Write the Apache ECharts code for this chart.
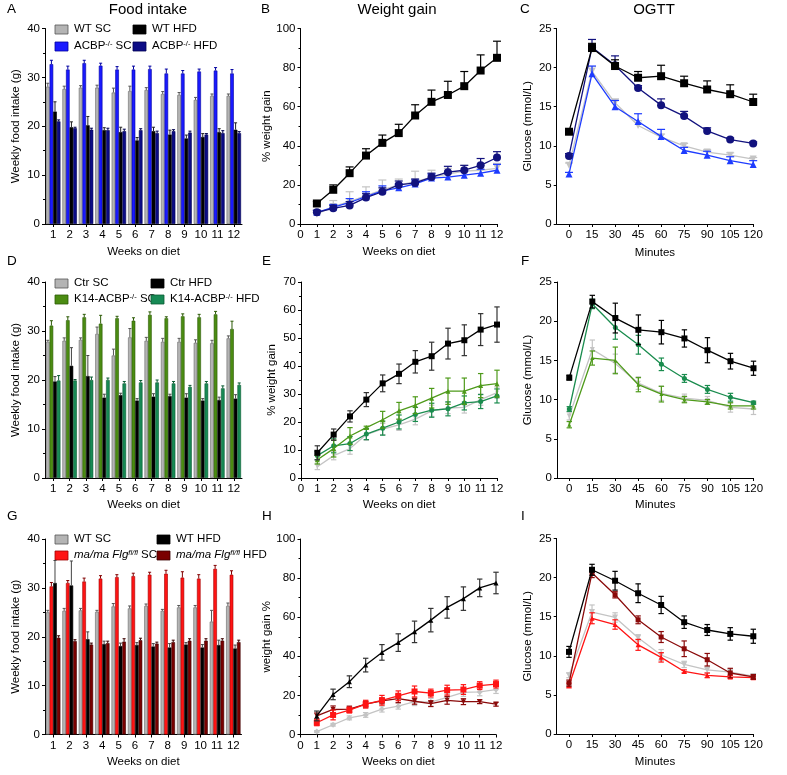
<!DOCTYPE html>
<html>
<head>
<meta charset="utf-8">
<script src="https://cdn.jsdelivr.net/npm/echarts@6/dist/echarts.min.js"></script>
<style>
html, body { margin: 0; padding: 0; background: #fff; }
#chart { width: 787px; height: 775px; }
</style>
</head>
<body>
<div id="chart"></div>
<script>
const weeks = ['1', '2', '3', '4', '5', '6', '7', '8', '9', '10', '11', '12']
const weekNums = [1, 2, 3, 4, 5, 6, 7, 8, 9, 10, 11, 12]
const minutes = [0, 15, 30, 45, 60, 75, 90, 105, 120]

// A - food intake, ACBP-/-
const aWtSc = [28.1, 27.6, 27.9, 27.9, 26.9, 27.2, 27.4, 26.6, 26.4, 25.4, 26.2, 26.2]
const aWtScErr = [0.7, 0.6, 0.4, 0.5, 0.9, 1.0, 0.5, 0.5, 0.5, 0.5, 0.4, 0.4]
const aKoSc = [32.7, 31.6, 32.9, 32.4, 31.6, 31.6, 31.7, 30.8, 30.8, 31.2, 31.4, 30.8]
const aKoScErr = [0.8, 0.7, 0.6, 0.5, 0.6, 0.7, 0.6, 0.9, 0.6, 0.5, 0.6, 0.8]
const aWtHfd = [23.0, 19.8, 20.2, 19.2, 18.8, 17.1, 19.0, 18.3, 17.5, 17.8, 18.8, 19.3]
const aWtHfdErr = [2.0, 1.1, 1.8, 0.5, 1.0, 0.6, 0.8, 0.9, 0.7, 0.7, 0.7, 1.4]
const aKoHfd = [21.0, 19.6, 19.3, 19.2, 19.0, 19.2, 18.6, 19.0, 18.7, 18.3, 18.6, 18.6]
const aKoHfdErr = [0.3, 0.2, 0.3, 0.4, 0.4, 0.3, 0.4, 0.3, 0.3, 0.2, 0.5, 0.3]

// B - weight gain, ACBP-/-
const bWtHfd = [10.5, 17.5, 26, 35, 41.5, 46.5, 55.5, 62.5, 66, 70.5, 78.5, 85]
const bWtHfdErr = [1, 2.5, 3.2, 3.5, 4, 4.5, 5.5, 6, 7, 7.5, 8, 8.5]
const bKoHfd = [6, 8, 9.5, 13.5, 16.5, 20, 21, 24, 26.5, 27.5, 30, 34]
const bKoHfdErr = [1, 1.5, 2, 2, 2, 2, 2, 2, 3, 2.5, 3.5, 3]
const bKoSc = [6, 8.5, 11, 14, 17, 18.5, 20.5, 23.5, 24, 25, 26, 27.5]
const bKoScErr = [1, 1.5, 2, 2.5, 2.5, 2, 2, 2, 2, 2, 2, 3]
const bWtSc = [5, 9, 11.5, 14.5, 17.5, 20, 21.5, 24, 25.5, 27, 27.5, 28.5]
const bWtScErr = [1.5, 3, 5, 4.5, 5, 3, 5.5, 3.5, 3, 3, 2.5, 2.5]

// C - OGTT, ACBP-/-
const cWtHfd = [11.8, 22.5, 20.2, 18.7, 18.9, 18.0, 17.2, 16.6, 15.6]
const cWtHfdErr = [0.3, 0.6, 0.8, 0.8, 1.4, 0.9, 1.1, 1.2, 1.0]
const cKoHfd = [8.7, 22.6, 20.3, 17.4, 15.2, 13.8, 11.9, 10.8, 10.3]
const cKoHfdErr = [0.3, 1.0, 1.2, 0.3, 0.8, 0.6, 0.4, 0.2, 0.2]
const cKoSc = [6.4, 19.2, 15.0, 13.1, 11.2, 9.4, 8.8, 8.1, 7.6]
const cKoScErr = [0.2, 1.0, 0.8, 1.0, 0.9, 0.4, 0.5, 0.5, 0.5]
const cWtSc = [7.5, 19.5, 15.5, 12.6, 11.1, 10.0, 9.2, 8.8, 8.3]
const cWtScErr = [0.3, 0.6, 0.5, 0.6, 0.4, 0.3, 0.3, 0.3, 0.2]

// D - food intake, K14-ACBP-/-
const dCtrSc = [27.8, 28.0, 28.2, 29.4, 25.0, 28.7, 28.0, 27.8, 27.8, 27.6, 27.5, 28.5]
const dCtrScErr = [0.3, 0.6, 0.4, 1.4, 1.3, 1.8, 0.7, 0.7, 0.7, 0.6, 0.6, 0.5]
const dKoSc = [31.1, 32.2, 32.8, 31.5, 32.6, 32.1, 33.3, 32.6, 33.0, 32.8, 33.4, 30.4]
const dKoScErr = [1.0, 0.7, 0.6, 1.7, 0.4, 0.6, 0.6, 0.3, 0.5, 0.6, 0.6, 1.6]
const dCtrHfd = [19.7, 22.9, 20.8, 16.4, 16.9, 15.8, 16.6, 16.7, 16.4, 15.8, 15.9, 16.2]
const dCtrHfdErr = [1.0, 3.7, 4.2, 0.7, 0.4, 0.4, 0.6, 0.4, 0.8, 0.4, 0.6, 0.8]
const dKoHfd = [19.9, 19.9, 20.0, 20.0, 19.3, 19.5, 19.5, 19.3, 18.6, 19.3, 18.3, 19.0]
const dKoHfdErr = [1.0, 0.2, 0.6, 0.4, 0.4, 0.4, 0.5, 0.4, 0.3, 0.4, 0.5, 0.4]

// E - weight gain, K14-ACBP-/-
const eCtrHfd = [9, 15.5, 22, 28, 33.8, 37.2, 41.5, 43.5, 48, 49.2, 53, 54.8]
const eCtrHfdErr = [2.5, 2, 2, 2.5, 3, 3.5, 4, 5, 5.5, 5.5, 5.7, 6.3]
const eKoSc = [6.5, 10.5, 15, 18, 20.8, 24, 26, 28.5, 31, 31, 33, 33.7]
const eKoScErr = [1.5, 3, 3, 0.5, 3, 3, 3, 3.5, 4.7, 4.7, 4.3, 4.8]
const eKoHfd = [8, 11.5, 12.3, 15.7, 17.8, 20, 22.7, 24.2, 24.7, 26.8, 27.3, 29.3]
const eKoHfdErr = [1.5, 2.5, 2.5, 2, 2.5, 2.5, 2.5, 2.5, 2.5, 2.5, 2.5, 2.5]
const eCtrSc = [4, 8, 10.5, 15.5, 17.5, 19, 21, 24, 25, 25.2, 28, 30.5]
const eCtrScErr = [1, 1.5, 2, 2, 2, 2, 2, 2, 2, 2, 2, 2]

// F - OGTT, K14-ACBP-/-
const fCtrHfd = [12.8, 22.5, 20.4, 18.9, 18.6, 17.8, 16.3, 14.9, 14.0]
const fCtrHfdErr = [0.3, 0.8, 1.9, 1.9, 1.5, 1.1, 1.6, 1.0, 0.9]
const fKoHfd = [8.8, 22.2, 19.2, 17.0, 14.5, 12.7, 11.3, 10.3, 9.6]
const fKoHfdErr = [0.3, 0.6, 1.5, 1.2, 0.8, 0.5, 0.5, 0.5, 0.2]
const fKoSc = [6.8, 15.3, 15.0, 11.9, 10.7, 10.0, 9.7, 9.2, 9.2]
const fKoScErr = [0.4, 0.9, 1.7, 0.9, 1.0, 0.4, 0.3, 0.4, 0.4]
const fCtrSc = [7.9, 16.4, 14.6, 12.1, 10.8, 10.2, 9.9, 9.0, 8.8]
const fCtrScErr = [0.5, 1.2, 1.2, 0.8, 0.9, 0.5, 0.5, 0.6, 0.7]

// G - food intake, ma/ma Flg fl/fl
const gWtSc = [25.0, 25.3, 25.4, 25.1, 26.2, 25.8, 26.3, 25.3, 26.0, 26.0, 23.1, 26.3]
const gWtScErr = [0.4, 0.5, 0.4, 0.3, 0.6, 0.5, 0.4, 0.3, 0.4, 0.4, 2.3, 0.6]
const gMaSc = [30.3, 31.0, 31.3, 31.9, 32.2, 32.4, 32.7, 32.9, 32.1, 31.9, 33.9, 32.7]
const gMaScErr = [0.8, 0.5, 0.7, 0.6, 0.5, 0.6, 0.5, 0.7, 1.2, 0.8, 0.7, 0.8]
const gWtHfd = [31.0, 30.5, 19.5, 18.5, 18.1, 18.3, 18.0, 17.8, 18.4, 17.8, 18.3, 17.6]
const gWtHfdErr = [4.6, 5.0, 1.5, 0.6, 0.6, 0.5, 0.6, 0.8, 0.4, 0.6, 1.0, 0.7]
const gMaHfd = [19.8, 19.1, 18.4, 18.7, 19.0, 19.3, 18.6, 18.9, 19.2, 19.2, 19.2, 18.9]
const gMaHfdErr = [0.4, 0.3, 0.3, 0.4, 0.6, 0.4, 0.3, 0.4, 0.4, 0.4, 0.4, 0.4]

// H - weight gain, ma/ma Flg fl/fl
const hWtHfd = [9.5, 20.5, 27, 35.5, 42, 47, 52.5, 58.5, 65, 69.5, 75, 77.5]
const hWtHfdErr = [2.5, 2.7, 3, 3.5, 4, 4.5, 5.5, 6, 5.5, 6, 4.5, 5.5]
const hMaSc = [6, 10, 12.5, 15.5, 17.5, 19.8, 22, 21.2, 22.7, 23, 25, 25.8]
const hMaScErr = [1.5, 2.5, 1.5, 2, 2.5, 2.5, 2.8, 2, 2.5, 2.5, 2, 2]
const hMaHfd = [9.5, 12.8, 13, 15.5, 17.2, 18.3, 17, 15.8, 17.5, 16.8, 16.8, 15.5]
const hMaHfdErr = [1.5, 1.8, 1.5, 1.5, 1.5, 2, 1.5, 1.5, 2, 1.5, 1, 1]
const hWtSc = [1.5, 5, 8.5, 10, 13, 14.5, 16.8, 16.5, 19, 21.5, 21.8, 23]
const hWtScErr = [0.5, 0.7, 1, 1.2, 1.5, 1.5, 2, 2, 2, 2, 2, 2]

// I - OGTT, ma/ma Flg fl/fl
const iWtHfd = [10.5, 21.0, 19.6, 18.0, 16.5, 14.3, 13.3, 12.8, 12.5]
const iWtHfdErr = [0.7, 0.7, 1.2, 1.2, 1.1, 0.8, 0.7, 0.8, 0.9]
const iMaHfd = [6.5, 20.6, 17.8, 14.6, 12.4, 10.9, 9.5, 7.8, 7.3]
const iMaHfdErr = [0.4, 0.6, 0.4, 0.5, 0.7, 1.0, 0.8, 0.6, 0.3]
const iWtSc = [7.5, 15.6, 14.9, 12.3, 10.1, 8.9, 8.2, 7.9, 7.4]
const iWtScErr = [0.3, 0.9, 0.6, 0.4, 0.7, 0.4, 0.4, 0.4, 0.3]
const iMaSc = [6.2, 14.8, 14.0, 11.4, 9.8, 8.0, 7.5, 7.3, 7.2]
const iMaScErr = [0.3, 0.7, 0.6, 0.7, 0.6, 0.2, 0.3, 0.2, 0.2]

const FONT = '"Liberation Sans", Arial, sans-serif'
const txt = { color: '#000', fontFamily: FONT, fontSize: 11.5 }

const grids = [
  { left: 45, top: 28.5, width: 197, height: 195.5 },
  { left: 300.5, top: 28.5, width: 196.5, height: 195.5 },
  { left: 556.7, top: 28.5, width: 196.5, height: 195.5 },
  { left: 45, top: 282, width: 197, height: 196 },
  { left: 301, top: 282, width: 196, height: 196 },
  { left: 557, top: 282, width: 196.5, height: 196 },
  { left: 45, top: 539, width: 196.5, height: 195.5 },
  { left: 300.5, top: 539, width: 195.5, height: 195.5 },
  { left: 556.7, top: 538.5, width: 196.6, height: 195.5 }
]
// gap between x axis line and its title, per row
const xNameGaps = [22, 22, 23, 21, 21, 21, 21.5, 21.5, 21.5]

const blackLine = { show: true, onZero: false, lineStyle: { color: '#000', width: 1 } }

function xCat(gi) {
  return {
    type: 'category', gridIndex: gi, data: weeks,
    name: 'Weeks on diet', nameLocation: 'middle', nameGap: xNameGaps[gi], nameTextStyle: txt,
    axisLine: blackLine,
    axisTick: { show: true, alignWithLabel: true, length: 3, lineStyle: { color: '#000' } },
    axisLabel: { ...txt, margin: 5, interval: 0 }
  }
}

function xWeeks(gi) {
  return {
    type: 'value', gridIndex: gi, min: 0, max: 12, interval: 1,
    name: 'Weeks on diet', nameLocation: 'middle', nameGap: xNameGaps[gi], nameTextStyle: txt,
    axisLine: blackLine, splitLine: { show: false },
    axisTick: { show: true, length: 3, lineStyle: { color: '#000' } },
    axisLabel: { ...txt, margin: 5 }
  }
}

function xMinutes(gi) {
  return {
    type: 'value', gridIndex: gi, min: -8, max: 120,
    name: 'Minutes', nameLocation: 'middle', nameGap: xNameGaps[gi], nameTextStyle: txt,
    axisLine: blackLine, splitLine: { show: false },
    axisTick: { show: true, length: 3, customValues: minutes, lineStyle: { color: '#000' } },
    axisLabel: { ...txt, margin: 5, customValues: minutes }
  }
}

function yVal(gi, max, interval, name, minor) {
  return {
    type: 'value', gridIndex: gi, min: 0, max: max, interval: interval,
    name: name, nameLocation: 'middle', nameGap: 23, nameTextStyle: txt,
    axisLine: blackLine, splitLine: { show: false },
    axisTick: { show: true, length: 3, lineStyle: { color: '#000' } },
    minorTick: { show: minor, splitNumber: 2, length: 2, lineStyle: { color: '#000' } },
    minorSplitLine: { show: false },
    axisLabel: { ...txt, margin: 5 }
  }
}

const series = []

// grouped bars + upward SEM caps
function addBars(gi, groups) {
  const n = groups.length
  groups.forEach((g, k) => {
    series.push({
      type: 'bar', xAxisIndex: gi, yAxisIndex: gi, data: g.vals,
      barGap: '0%', barCategoryGap: '12%', silent: true,
      itemStyle: { color: g.color, borderColor: g.border, borderWidth: 0.6 }
    })
    series.push({
      type: 'custom', xAxisIndex: gi, yAxisIndex: gi, silent: true, z: 3,
      data: g.vals.map((v, i) => [i, v, g.errs[i]]),
      renderItem: (params, api) => {
        const base = api.coord([api.value(0), api.value(1)])
        const top = api.coord([api.value(0), api.value(1) + api.value(2)])
        const band = api.size([1, 0])[0]
        const total = band * (1 - 0.12)
        const bw = total / n
        const x = base[0] - total / 2 + bw * (k + 0.5)
        const hw = bw * 0.42
        const st = { stroke: g.err, lineWidth: 1 }
        return {
          type: 'group', children: [
            { type: 'line', shape: { x1: x, y1: base[1], x2: x, y2: top[1] }, style: st },
            { type: 'line', shape: { x1: x - hw, y1: top[1], x2: x + hw, y2: top[1] }, style: st }
          ]
        }
      }
    })
  })
}

// lines with markers + SEM bars (up only or both directions)
function addLines(gi, xs, groups, both, hw) {
  groups.forEach(g => {
    series.push({
      type: 'custom', xAxisIndex: gi, yAxisIndex: gi, silent: true, z: g.z,
      data: xs.map((x, i) => [x, g.vals[i], g.errs[i]]),
      renderItem: (params, api) => {
        const mid = api.coord([api.value(0), api.value(1)])
        const hi = api.coord([api.value(0), api.value(1) + api.value(2)])
        const lo = both ? api.coord([api.value(0), api.value(1) - api.value(2)]) : mid
        const st = { stroke: g.err || g.color, lineWidth: 1.2 }
        const kids = [
          { type: 'line', shape: { x1: mid[0], y1: lo[1], x2: mid[0], y2: hi[1] }, style: st },
          { type: 'line', shape: { x1: mid[0] - hw, y1: hi[1], x2: mid[0] + hw, y2: hi[1] }, style: st }
        ]
        if (both) kids.push({ type: 'line', shape: { x1: mid[0] - hw, y1: lo[1], x2: mid[0] + hw, y2: lo[1] }, style: st })
        return { type: 'group', children: kids }
      }
    })
    series.push({
      type: 'line', xAxisIndex: gi, yAxisIndex: gi, silent: true, z: g.z + 0.5,
      data: xs.map((x, i) => [x, g.vals[i]]),
      symbol: g.symbol, symbolSize: g.size, symbolRotate: g.rot || 0,
      lineStyle: { color: g.color, width: 1.3 },
      itemStyle: { color: g.color, borderWidth: 0 }
    })
  })
}

const GREY = '#b4b4b4', BLUE = '#1a1aff', NAVY = '#0c0c86', BLACK = '#000'
const OLIVE = '#4b8c12', TEAL = '#178a55', RED = '#ff1414', DRED = '#7a0000'

addBars(0, [
  { vals: aWtSc, errs: aWtScErr, color: GREY, border: '#6a6a6a', err: '#555' },
  { vals: aKoSc, errs: aKoScErr, color: BLUE, border: '#0000a0', err: '#0000a0' },
  { vals: aWtHfd, errs: aWtHfdErr, color: BLACK, border: '#000', err: '#222' },
  { vals: aKoHfd, errs: aKoHfdErr, color: NAVY, border: '#000050', err: '#000050' }
])
addLines(1, weekNums, [
  { vals: bWtSc, errs: bWtScErr, color: '#c4c4c4', symbol: 'triangle', rot: 180, size: 7, z: 2 },
  { vals: bKoSc, errs: bKoScErr, color: '#1e3cff', symbol: 'triangle', size: 7, z: 3 },
  { vals: bKoHfd, errs: bKoHfdErr, color: '#12127e', symbol: 'circle', size: 8, z: 4 },
  { vals: bWtHfd, errs: bWtHfdErr, color: BLACK, symbol: 'rect', size: 8, z: 5 }
], false, 4)
addLines(2, minutes, [
  { vals: cWtSc, errs: cWtScErr, color: '#c4c4c4', symbol: 'triangle', rot: 180, size: 7, z: 2 },
  { vals: cKoSc, errs: cKoScErr, color: '#1e3cff', symbol: 'triangle', size: 7, z: 3 },
  { vals: cKoHfd, errs: cKoHfdErr, color: '#12127e', symbol: 'circle', size: 8, z: 4 },
  { vals: cWtHfd, errs: cWtHfdErr, color: BLACK, symbol: 'rect', size: 8, z: 5 }
], false, 4)

addBars(3, [
  { vals: dCtrSc, errs: dCtrScErr, color: GREY, border: '#6a6a6a', err: '#555' },
  { vals: dKoSc, errs: dKoScErr, color: OLIVE, border: '#2c5a05', err: '#2c5a05' },
  { vals: dCtrHfd, errs: dCtrHfdErr, color: BLACK, border: '#000', err: '#444' },
  { vals: dKoHfd, errs: dKoHfdErr, color: TEAL, border: '#0a5a32', err: '#0a5a32' }
])
addLines(4, weekNums, [
  { vals: eCtrSc, errs: eCtrScErr, color: '#c4c4c4', symbol: 'triangle', rot: 180, size: 4, z: 2 },
  { vals: eKoHfd, errs: eKoHfdErr, color: '#1a8c4e', symbol: 'circle', size: 5, z: 3 },
  { vals: eKoSc, errs: eKoScErr, color: '#4e9a1a', symbol: 'triangle', size: 5, z: 4 },
  { vals: eCtrHfd, errs: eCtrHfdErr, color: BLACK, err: '#333', symbol: 'rect', size: 6, z: 5 }
], true, 2.7)
addLines(5, minutes, [
  { vals: fCtrSc, errs: fCtrScErr, color: '#c4c4c4', symbol: 'triangle', rot: 180, size: 5, z: 2 },
  { vals: fKoSc, errs: fKoScErr, color: '#4e9a1a', symbol: 'triangle', size: 4, z: 3 },
  { vals: fKoHfd, errs: fKoHfdErr, color: '#1a8c4e', symbol: 'circle', size: 5, z: 4 },
  { vals: fCtrHfd, errs: fCtrHfdErr, color: BLACK, symbol: 'rect', size: 6, z: 5 }
], true, 2.7)

addBars(6, [
  { vals: gWtSc, errs: gWtScErr, color: GREY, border: '#6a6a6a', err: '#555' },
  { vals: gMaSc, errs: gMaScErr, color: RED, border: '#a00000', err: '#800000' },
  { vals: gWtHfd, errs: gWtHfdErr, color: BLACK, border: '#000', err: '#444' },
  { vals: gMaHfd, errs: gMaHfdErr, color: DRED, border: '#3a0000', err: '#3a0000' }
])
addLines(7, weekNums, [
  { vals: hWtSc, errs: hWtScErr, color: '#c4c4c4', symbol: 'diamond', size: 6, z: 2 },
  { vals: hMaHfd, errs: hMaHfdErr, color: '#8a0a0a', symbol: 'triangle', rot: 180, size: 5, z: 3 },
  { vals: hMaSc, errs: hMaScErr, color: RED, symbol: 'rect', size: 6, z: 4 },
  { vals: hWtHfd, errs: hWtHfdErr, color: BLACK, err: '#333', symbol: 'triangle', size: 5, z: 5 }
], true, 2.7)
addLines(8, minutes, [
  { vals: iWtSc, errs: iWtScErr, color: '#c4c4c4', symbol: 'triangle', rot: 180, size: 6, z: 2 },
  { vals: iMaSc, errs: iMaScErr, color: RED, symbol: 'triangle', size: 5, z: 3 },
  { vals: iMaHfd, errs: iMaHfdErr, color: '#8a0a0a', symbol: 'rect', size: 5, z: 4 },
  { vals: iWtHfd, errs: iWtHfdErr, color: BLACK, symbol: 'rect', size: 6, z: 5 }
], true, 2.7)

// free texts: panel letters, titles, legends
const graphic = []
function label(x, y, text, size, align) {
  graphic.push({
    type: 'text', x: x, y: y, silent: true,
    style: { text: text, fill: '#000', font: size + 'px ' + FONT, align: align || 'left', verticalAlign: 'top' }
  })
}
const rich = {
  s: { fontSize: 7.5, fontFamily: FONT, fill: '#000', verticalAlign: 'top', lineHeight: 8 },
  i: { fontSize: 11.5, fontFamily: FONT, fill: '#000', fontStyle: 'italic', verticalAlign: 'top', lineHeight: 14 },
  is: { fontSize: 7.5, fontFamily: FONT, fill: '#000', fontStyle: 'italic', verticalAlign: 'top', lineHeight: 8 },
  n: { fontSize: 11.5, fontFamily: FONT, fill: '#000', verticalAlign: 'top', lineHeight: 14 }
}
function legendItem(x, y, color, border, text) {
  graphic.push({
    type: 'rect', silent: true, shape: { x: x, y: y, width: 13, height: 9 },
    style: { fill: color, stroke: border, lineWidth: 0.8 }
  })
  graphic.push({
    type: 'text', silent: true, x: x + 19, y: y - 2.5,
    style: { text: text, rich: rich, fill: '#000', font: '11.5px ' + FONT, verticalAlign: 'top' }
  })
}

label(7, 2, 'A', 13.5); label(261, 2, 'B', 13.5); label(520, 2, 'C', 13.5)
label(7, 254, 'D', 13.5); label(262, 254, 'E', 13.5); label(521, 254, 'F', 13.5)
label(7, 509, 'G', 13.5); label(262, 509, 'H', 13.5); label(521, 509, 'I', 13.5)
label(148, 2, 'Food intake', 15, 'center')
label(397, 2, 'Weight gain', 15, 'center')
label(654, 2, 'OGTT', 15, 'center')

legendItem(55, 25, GREY, '#555', '{n|WT SC}')
legendItem(133, 25, BLACK, '#000', '{n|WT HFD}')
legendItem(55, 42, BLUE, '#0000a0', '{n|ACBP}{s|-/-}{n| SC}')
legendItem(133, 42, NAVY, '#000050', '{n|ACBP}{s|-/-}{n| HFD}')

legendItem(55, 279, GREY, '#555', '{n|Ctr SC}')
legendItem(151, 279, BLACK, '#000', '{n|Ctr HFD}')
legendItem(55, 295, OLIVE, '#2c5a05', '{n|K14-ACBP}{s|-/-}{n| SC}')
legendItem(151, 295, TEAL, '#0a5a32', '{n|K14-ACBP}{s|-/-}{n| HFD}')

legendItem(55, 535, GREY, '#555', '{n|WT SC}')
legendItem(157, 535, BLACK, '#000', '{n|WT HFD}')
legendItem(55, 551, RED, '#a00000', '{i|ma/ma Flg}{is|fl/fl}{n| SC}')
legendItem(157, 551, DRED, '#3a0000', '{i|ma/ma Flg}{is|fl/fl}{n| HFD}')

const chart = echarts.init(document.querySelector('#chart'))
chart.setOption({
  backgroundColor: '#fff',
  animation: false,
  grid: grids,
  xAxis: [xCat(0), xWeeks(1), xMinutes(2), xCat(3), xWeeks(4), xMinutes(5), xCat(6), xWeeks(7), xMinutes(8)],
  yAxis: [
    yVal(0, 40, 10, 'Weekly food intake (g)', true),
    yVal(1, 100, 20, '% weight gain', true),
    yVal(2, 25, 5, 'Glucose (mmol/L)', false),
    yVal(3, 40, 10, 'Weekly food intake (g)', true),
    yVal(4, 70, 10, '% weight gain', true),
    yVal(5, 25, 5, 'Glucose (mmol/L)', false),
    yVal(6, 40, 10, 'Weekly food intake (g)', true),
    yVal(7, 100, 20, 'weight gain %', true),
    yVal(8, 25, 5, 'Glucose (mmol/L)', false)
  ],
  series: series,
  graphic: graphic
})
</script>
</body>
</html>
